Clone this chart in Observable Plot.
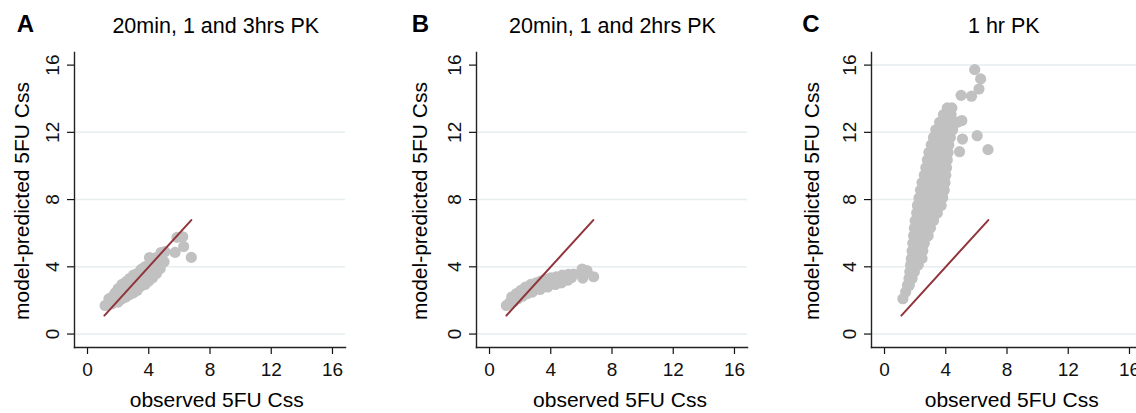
<!DOCTYPE html>
<html>
<head>
<meta charset="utf-8">
<script src="https://cdn.jsdelivr.net/npm/d3@7"></script>
<script src="https://cdn.jsdelivr.net/npm/@observablehq/plot@0.6"></script>
<style>
  html, body { margin: 0; padding: 0; background: #ffffff; }
  #root { position: relative; width: 1136px; height: 413px; overflow: hidden;
          font-family: "Liberation Sans", Arial, Helvetica, sans-serif; color: #000; background: #fff; }
  .abs { position: absolute; white-space: nowrap; line-height: 1; }
  .letter { font-weight: bold; font-size: 24px; }
  .title { font-size: 21.5px; transform: translateX(-50%); }
  .xt { font-size: 21px; transform: translateX(-50%); }
  .yt { font-size: 21px; transform: translate(-50%, -50%) rotate(-90deg); }
  .panel { position: absolute; top: 0; width: 380px; height: 413px; }
  .panel svg { max-width: none !important; width: 380px; height: 413px; }
</style>
</head>
<body>
<div id="root"></div>
<script>
// ---------------- data ----------------
const panelLetters = ["A", "B", "C"];
const panelTitles = ["20min, 1 and 3hrs PK", "20min, 1 and 2hrs PK", "1 hr PK"];
const xTitle = "observed 5FU Css";
const yTitle = "model-predicted 5FU Css";
const axisTicks = [0, 4, 8, 12, 16];
const gridA = [0, 4, 8, 12];
const gridB = [0, 4, 8, 12];
const gridC = [0, 4, 8, 12, 16];
// identity reference line (observed = predicted), start and end
const refLine = [1.1, 6.78];

// [observed, predicted] pairs
const pointsA = [
  [1.15,1.7],[1.35,1.8],[1.4,2.1],[1.6,1.8],[1.6,2.2],[1.8,2.0],[1.8,2.45],
  [2.0,1.9],[2.0,2.3],[2.0,2.7],[2.25,2.1],[2.25,2.55],[2.25,2.95],
  [2.5,2.2],[2.5,2.65],[2.5,3.1],[2.75,2.35],[2.75,2.8],[2.75,3.3],
  [3.0,2.45],[3.0,2.95],[3.0,3.5],[3.25,2.6],[3.25,3.1],[3.25,3.6],
  [3.5,2.85],[3.5,3.3],[3.5,3.85],[3.75,2.95],[3.75,3.45],[3.75,4.0],
  [4.0,3.15],[4.0,3.6],[4.0,4.1],[4.05,4.55],[4.25,3.35],[4.25,3.85],[4.25,4.3],
  [4.5,3.6],[4.5,4.1],[4.5,4.55],[4.75,3.9],[4.75,4.4],[4.8,4.85],
  [5.0,4.3],[5.05,4.9],
  [5.84,5.75],[6.22,5.79],[5.72,4.86],[6.28,5.21],[6.78,4.56]
];
const pointsB = [
  [1.1,1.7],[1.3,1.85],[1.45,2.2],[1.6,1.95],[1.75,2.4],[1.85,2.1],
  [2.05,2.6],[2.15,2.25],[2.35,2.8],[2.45,2.4],[2.5,2.6],[2.7,2.95],
  [2.8,2.5],[3.0,2.75],[3.05,3.05],[3.3,2.65],[3.35,3.15],[3.5,2.9],
  [3.65,3.25],[3.8,2.8],[3.95,3.1],[4.0,3.35],[4.3,2.95],[4.35,3.4],
  [4.5,3.2],[4.7,3.05],[4.75,3.5],[4.9,3.3],[5.1,3.2],[5.15,3.55],
  [5.35,3.35],[5.5,3.57],
  [6.05,3.87],[6.37,3.77],[6.09,3.33],[6.8,3.41]
];
const pointsC = [
  [1.2,2.1],[1.38,2.5],[1.5,2.9],[1.62,2.9],[1.6,3.3],[1.8,3.3],
  [1.65,3.7],[1.95,3.7],[1.7,4.1],[1.95,4.1],[2.2,4.1],
  [1.75,4.5],[2.1,4.5],[2.45,4.5],[1.8,4.95],[2.15,4.95],[2.5,4.95],
  [1.85,5.4],[2.2,5.4],[2.6,5.4],[1.9,5.85],[2.3,5.85],[2.7,5.85],[2.85,5.85],
  [1.95,6.3],[2.35,6.3],[2.7,6.3],[3.0,6.3],
  [2.0,6.75],[2.4,6.75],[2.8,6.75],[3.2,6.75],
  [2.1,7.2],[2.5,7.2],[2.9,7.2],[3.3,7.2],[3.45,7.2],
  [2.15,7.65],[2.55,7.65],[2.95,7.65],[3.35,7.65],[3.7,7.65],
  [2.25,8.1],[2.65,8.1],[3.05,8.1],[3.45,8.1],[3.8,8.1],
  [2.35,8.55],[2.75,8.55],[3.15,8.55],[3.55,8.55],[3.9,8.55],
  [2.45,9.0],[2.85,9.0],[3.25,9.0],[3.65,9.0],[3.95,9.0],
  [2.6,9.45],[3.0,9.45],[3.4,9.45],[3.75,9.45],[4.0,9.45],
  [2.7,9.9],[3.05,9.9],[3.4,9.9],[3.75,9.9],[4.05,9.9],
  [2.8,10.35],[3.15,10.35],[3.5,10.35],[3.8,10.35],[4.1,10.35],
  [2.9,10.8],[3.25,10.8],[3.6,10.8],[3.9,10.8],[4.15,10.8],
  [3.05,11.25],[3.45,11.25],[3.8,11.25],[4.2,11.25],
  [3.2,11.7],[3.6,11.7],[3.95,11.7],[4.3,11.7],
  [3.35,12.15],[3.7,12.15],[4.1,12.15],[4.45,12.15],
  [3.6,12.6],[4.0,12.6],[4.4,12.6],[4.75,12.6],
  [3.85,13.05],[4.35,13.05],[4.1,13.45],[4.4,13.45],
  [5.05,12.7],[5.0,14.2],[5.68,14.15],[6.17,14.58],[6.28,15.18],[5.89,15.73],
  [5.09,11.6],[6.05,11.8],[6.76,10.97],[4.9,10.85]
];

// ---------------- layout ----------------
const panels = [
  {points: pointsA, grid: gridA, svgLeft: 0,     letterX: 16.7,  titleX: 215.8,  xtX: 216.7, ytX: 21},
  {points: pointsB, grid: gridB, svgLeft: 402.3, letterX: 411.7, titleX: 612.5,  xtX: 620,   ytX: 419.4},
  {points: pointsC, grid: gridC, svgLeft: 796.7, letterX: 802.3, titleX: 1003.8, xtX: 1011.7, ytX: 811}
];

const root = document.getElementById("root");
const refPts = refLine.map(v => ({v}));

panels.forEach((p, i) => {
  const chart = Plot.plot({
    width: 380,
    height: 413,
    marginLeft: 74,
    marginRight: 35,
    marginTop: 52,
    marginBottom: 66,
    style: {fontFamily: '"Liberation Sans", Arial, Helvetica, sans-serif', fontSize: "19px", color: "#111", background: "transparent", overflow: "visible", maxWidth: "none"},
    x: {domain: [-0.85, 16.85]},
    y: {domain: [-0.8, 16.75]},
    marks: [
      Plot.ruleY(p.grid, {stroke: "#e6eef0", strokeWidth: 1.5}),
      Plot.dot(p.points, {x: d => d[0], y: d => d[1], r: 5.6, fill: "#c1c1c1", stroke: "none"}),
      Plot.line(refPts, {x: "v", y: "v", stroke: "#90353b", strokeWidth: 2}),
      Plot.axisX({ticks: axisTicks, tickSize: 7, tickPadding: 8, label: null, strokeWidth: 1.2}),
      Plot.axisY({ticks: axisTicks, tickSize: 7, tickPadding: 9, tickRotate: -90, label: null, strokeWidth: 1.2}),
      Plot.frame({anchor: "left", stroke: "#222", strokeWidth: 1.4}),
      Plot.frame({anchor: "bottom", stroke: "#222", strokeWidth: 1.4})
    ]
  });
  const holder = document.createElement("div");
  holder.className = "panel";
  holder.style.left = p.svgLeft + "px";
  holder.appendChild(chart);
  root.appendChild(holder);

  const letter = document.createElement("div");
  letter.className = "abs letter";
  letter.textContent = panelLetters[i];
  letter.style.left = p.letterX + "px";
  letter.style.top = "12px";
  root.appendChild(letter);

  const title = document.createElement("div");
  title.className = "abs title";
  title.textContent = panelTitles[i];
  title.style.left = p.titleX + "px";
  title.style.top = "16px";
  root.appendChild(title);

  const xt = document.createElement("div");
  xt.className = "abs xt";
  xt.textContent = xTitle;
  xt.style.left = p.xtX + "px";
  xt.style.top = "389px";
  root.appendChild(xt);

  const yt = document.createElement("div");
  yt.className = "abs yt";
  yt.textContent = yTitle;
  yt.style.left = p.ytX + "px";
  yt.style.top = "201px";
  root.appendChild(yt);
});
</script>
</body>
</html>
